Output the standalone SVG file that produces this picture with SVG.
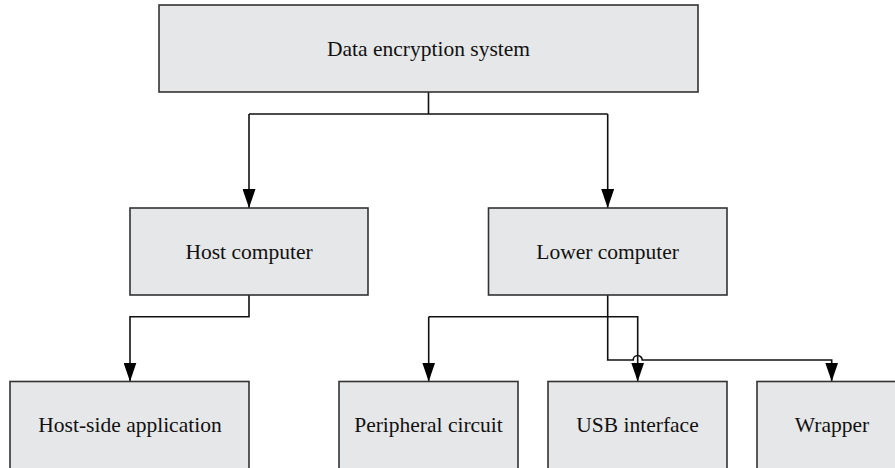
<svg xmlns="http://www.w3.org/2000/svg" width="895" height="468" viewBox="0 0 895 468">
<style>
.box{fill:#e6e7e8;stroke:#333;stroke-width:1.6}
.lbl{font-family:"Liberation Serif","Times New Roman",serif;font-size:21.5px;fill:#111;text-anchor:middle}
.ln{fill:none;stroke:#111;stroke-width:1.6}
</style>
<defs>
<marker id="ah" markerUnits="userSpaceOnUse" markerWidth="19" markerHeight="13" viewBox="0 0 19 13" refX="19" refY="6.5" orient="auto">
<path d="M0,0 L19,6.5 L0,13 z" fill="#000"/>
</marker>
</defs>
<rect width="895" height="468" fill="#fff"/>
<g id="connectors">
<path class="ln" d="M428.5,92 V114 M249,114 H607.7"/>
<path class="ln" d="M249,114 V208" marker-end="url(#ah)"/>
<path class="ln" d="M607.7,114 V208" marker-end="url(#ah)"/>
<path class="ln" d="M249,295 V316.7 H130 V381.5" marker-end="url(#ah)"/>
<path class="ln" d="M428.7,316.7 V381.5" marker-end="url(#ah)"/>
<path class="ln" d="M428.7,316.7 H637.7 V381.5" marker-end="url(#ah)"/>
<path class="ln" d="M607.7,295 V360 H633.2 A4.5,4.5 0 0 1 642.2,360 H831.7 V381.5" marker-end="url(#ah)"/>
</g>
<g id="n-top"><rect class="box" x="159" y="5" width="539" height="87"/><text class="lbl" x="428.5" y="56">Data encryption system</text></g>
<g id="n-host"><rect class="box" x="130" y="208" width="238" height="87"/><text class="lbl" x="249" y="259">Host computer</text></g>
<g id="n-lower"><rect class="box" x="488.5" y="208" width="238.5" height="87"/><text class="lbl" x="607.7" y="259">Lower computer</text></g>
<g id="n-hostapp"><rect class="box" x="10" y="381.5" width="239" height="90"/><text class="lbl" x="130" y="432">Host-side application</text></g>
<g id="n-periph"><rect class="box" x="339" y="381.5" width="179" height="90"/><text class="lbl" x="428.5" y="432">Peripheral circuit</text></g>
<g id="n-usb"><rect class="box" x="548" y="381.5" width="179" height="90"/><text class="lbl" x="637.5" y="432">USB interface</text></g>
<g id="n-wrapper"><rect class="box" x="757" y="381.5" width="150" height="90"/><text class="lbl" x="832" y="432">Wrapper</text></g>
</svg>
